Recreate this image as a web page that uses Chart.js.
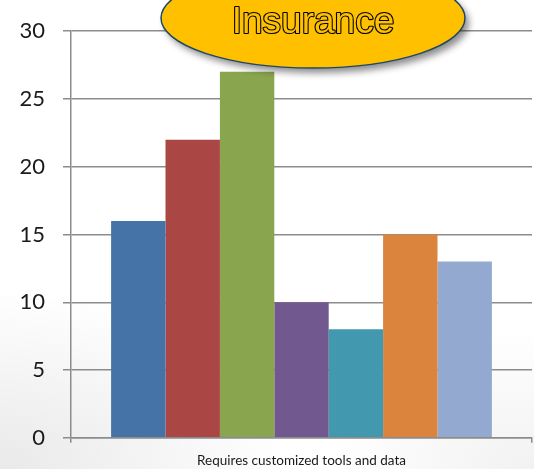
<!DOCTYPE html>
<html>
<head>
<meta charset="utf-8">
<script src="https://cdn.jsdelivr.net/npm/chart.js@4"></script>
<style>
  html, body { margin: 0; padding: 0; }
  body {
    width: 534px; height: 469px; overflow: hidden;
    background:
      radial-gradient(ellipse 420px 260px at 0% 100%, rgba(215,215,215,0.55), rgba(255,255,255,0) 70%),
      radial-gradient(ellipse 300px 200px at 100% 100%, rgba(225,225,225,0.45), rgba(255,255,255,0) 70%),
      #ffffff;
  }
  #wrap { position: relative; width: 534px; height: 469px; }
  canvas { display: block; }
</style>
</head>
<body>
<div id="wrap"><canvas id="chart" width="534" height="469"></canvas></div>
<script>
// Single category with seven grouped bars
const categories = ['Requires customized tools and data'];
const seriesNames = ['Series 1', 'Series 2', 'Series 3', 'Series 4', 'Series 5', 'Series 6', 'Series 7'];
const seriesValues = [16, 22, 27, 10, 8, 15, 13];
const seriesColors = ['#4572A7', '#AA4643', '#89A54E', '#71588F', '#4198AF', '#DB843D', '#93A9CF'];
const yTicks = [0, 5, 10, 15, 20, 25, 30];
const badgeText = 'Insurance';

const datasets = seriesNames.map((name, i) => ({
  label: name,
  data: [seriesValues[i]],
  backgroundColor: seriesColors[i],
  borderWidth: 0,
  barPercentage: 1.0,
  categoryPercentage: 0.826
}));

// Yellow callout ellipse with outlined title, painted on top of the bars
const badgePlugin = {
  id: 'badge',
  afterDraw(chart) {
    const ctx = chart.ctx;
    const cx = 313, cy = 18, rx = 152, ry = 50;
    ctx.save();
    // soft drop shadow
    ctx.shadowColor = 'rgba(0,0,0,0.45)';
    ctx.shadowBlur = 7;
    ctx.shadowOffsetX = 4;
    ctx.shadowOffsetY = 5;
    ctx.beginPath();
    ctx.ellipse(cx, cy, rx, ry, 0, 0, Math.PI * 2);
    ctx.closePath();
    ctx.fillStyle = '#FFC000';
    ctx.fill();
    ctx.shadowColor = 'rgba(0,0,0,0)';
    ctx.shadowBlur = 0;
    ctx.shadowOffsetX = 0;
    ctx.shadowOffsetY = 0;
    ctx.lineWidth = 1.5;
    ctx.strokeStyle = '#1F4763';
    ctx.stroke();

    ctx.font = '37px "Liberation Sans", Arial, sans-serif';
    ctx.textAlign = 'center';
    ctx.textBaseline = 'alphabetic';
    ctx.lineJoin = 'round';
    ctx.lineWidth = 2.2;
    ctx.strokeStyle = '#000000';
    ctx.strokeText(badgeText, cx, 33);
    ctx.fillStyle = '#FFC000';
    ctx.fillText(badgeText, cx, 33);
    ctx.restore();
  }
};

new Chart(document.getElementById('chart'), {
  type: 'bar',
  data: { labels: categories, datasets },
  options: {
    responsive: false,
    animation: false,
    events: [],
    layout: { padding: { top: 27, right: 2, left: 0, bottom: 0 } },
    plugins: {
      legend: { display: false },
      tooltip: { enabled: false }
    },
    scales: {
      x: {
        grid: {
          display: true,
          drawOnChartArea: false,
          drawTicks: true,
          tickLength: 5,
          color: '#8c8c8c',
          lineWidth: 1.5,
          offset: true
        },
        border: { display: true, color: '#8c8c8c', width: 1.5 },
        ticks: {
          color: '#1a1a1a',
          font: { family: 'Lato, "Open Sans", sans-serif', size: 13.5 },
          padding: 10,
          maxRotation: 0
        },
        afterFit(scale) { scale.height = 29; }
      },
      y: {
        min: 0,
        max: 30,
        afterBuildTicks(scale) { scale.ticks = yTicks.map(v => ({ value: v })); },
        grid: {
          color: '#8c8c8c',
          lineWidth: 1.5,
          drawTicks: true,
          tickLength: 8
        },
        border: { display: true, color: '#8c8c8c', width: 1.5 },
        ticks: {
          color: '#1a1a1a',
          font: { family: 'Lato, "Open Sans", sans-serif', size: 22 },
          padding: 18
        },
        afterFit(scale) { scale.width = 71; }
      }
    }
  },
  plugins: [badgePlugin]
});
</script>
</body>
</html>
